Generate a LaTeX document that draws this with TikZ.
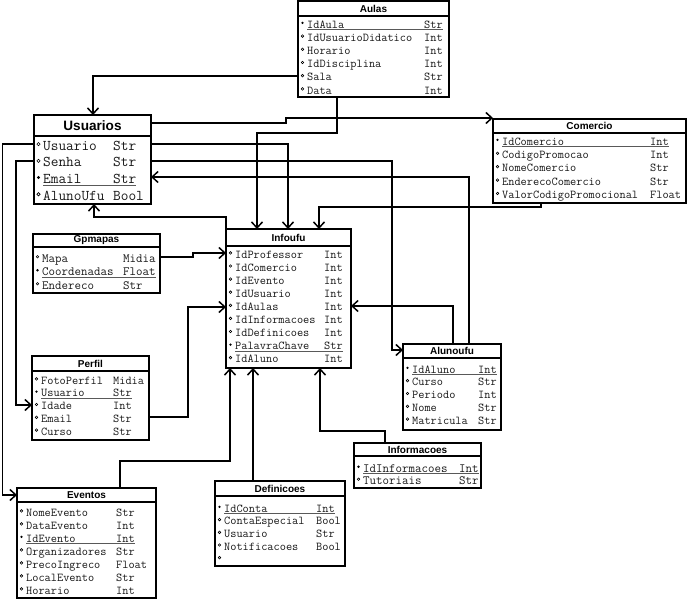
\documentclass[tikz,border=0pt]{standalone}
\usepackage{fontspec}
\newfontfamily\titf{Liberation Sans}
\usetikzlibrary{arrows.meta}
\def\fsz{12}\def\tsz{10}\def\ry{0}\def\rs{13}\def\br{1.3}
\tikzset{
 tbox/.style={draw, line width=1.6pt, inner sep=0pt, outer sep=0pt, fill=white},
 tline/.style={line width=1.6pt},
 ttl/.style={font=\titf\bfseries\fontsize{\tsz}{\tsz}\selectfont, inner sep=0pt},
 fld/.style={font=\ttfamily\fontsize{\fsz}{\fsz}\selectfont, inner sep=0pt, anchor=mid west, text=black!90},
 bulk/.style={fill=black},
 bulo/.style={draw, line width=0.6pt, fill=white},
 ulk/.style={draw, line width=1pt, black!65},
 ulo/.style={draw=none},
 conn/.style={line width=1.5pt, -{Straight Barb[length=6pt,width=11pt]}},
}
\newcommand\dbtab[9]{%
  \pgfmathsetmacro\bw{#4-#2}\pgfmathsetmacro\bh{#5-#3}%
  \node[tbox, minimum width=\bw pt, minimum height=\bh pt] (#1) at ({(#2+#4)/2},{(#3+#5)/2}) {};
  \draw[tline] (#2,#6) -- (#4,#6);
  \node[ttl] (#1-t) at ({(#2+#4)/2},{(#3+#6)/2}) {#7};
  \foreach \kk/\nm/\ty [count=\i from 0] in {#9} {
    \pgfmathsetmacro\yy{\ry+\i*\rs}
    \pgfmathsetmacro\yb{\yy-0.26*\fsz}
    \node[fld] (#1-n\i) at ({#2+9},{\yy}) {\nm};
    \node[fld] (#1-y\i) at ({#8},{\yy}) {\ty};
    \path[bul\kk] ({#2+4.5},{\yb}) circle (\br);
    \path[ul\kk] ([yshift=-1.8pt]#1-n\i.base west) -- ([yshift=-1.8pt]#1-y\i.base east);
  }
}
\begin{document}
\begin{tikzpicture}[x=1pt,y=-1pt]
\useasboundingbox (0,0) rectangle (688,599);

\def\ry{26}\def\rs{13.2}
\dbtab{aulas}{298}{1}{449}{97}{16}{Aulas}{424}{k/IdAula/Str, o/IdUsuarioDidatico/Int, o/Horario/Int, o/IdDisciplina/Int, o/Sala/Str, o/Data/Int}

\begingroup
\def\fsz{14.9}\def\tsz{13.6}\def\br{1.6}\def\ry{148}\def\rs{16.7}
\dbtab{usuarios}{34}{115}{151}{204}{136}{Usuarios}{113}{o/Usuario/Str, o/Senha/Str, k/Email/Str, o/AlunoUfu/Bool}
\endgroup

\def\ry{143}\def\rs{13.4}
\dbtab{comercio}{493}{119}{686}{203}{133}{Comercio}{650}{k/IdComercio/Int, o/CodigoPromocao/Int, o/NomeComercio/Str, o/EnderecoComercio/Str, o/ValorCodigoPromocional/Float}

\begingroup
\def\fsz{12.6}\def\ry{260}\def\rs{13.5}
\dbtab{gpmapas}{33}{234}{160}{293}{247}{Gpmapas}{123}{o/Mapa/Midia, k/Coordenadas/Float, o/Endereco/Str}
\endgroup

\def\ry{256}\def\rs{13.1}
\dbtab{infoufu}{226}{229}{351}{368}{246}{Infoufu}{324}{o/IdProfessor/Int, o/IdComercio/Int, o/IdEvento/Int, o/IdUsuario/Int, o/IdAulas/Int, o/IdInformacoes/Int, o/IdDefinicoes/Int, k/PalavraChave/Str, o/IdAluno/Int}

\def\ry{371}\def\rs{12.8}
\dbtab{alunoufu}{403}{344}{501}{430}{358}{Alunoufu}{478}{k/IdAluno/Int, o/Curso/Str, o/Periodo/Int, o/Nome/Str, o/Matricula/Str}

\def\ry{382}\def\rs{12.8}
\dbtab{perfil}{32}{356}{149}{440}{371}{Perfil}{113}{o/FotoPerfil/Midia, k/Usuario/Str, o/Idade/Int, o/Email/Str, o/Curso/Str}

\begingroup
\def\fsz{12.6}\def\ry{470}\def\rs{12.5}
\dbtab{informacoes}{354}{443}{481}{488}{456}{Informacoes}{459}{k/IdInformacoes/Int, o/Tutoriais/Str}
\endgroup

\def\ry{514}\def\rs{13}
\dbtab{eventos}{17}{488}{156}{598}{502}{Eventos}{116}{o/NomeEvento/Str, o/DataEvento/Int, k/IdEvento/Int, o/Organizadores/Str, o/PrecoIngreco/Float, o/LocalEvento/Str, o/Horario/Int}

\def\ry{510}\def\rs{12.7}
\dbtab{definicoes}{215}{481}{345}{566}{496}{Definicoes}{316}{k/IdConta/Int, o/ContaEspecial/Bool, o/Usuario/Str, o/Notificacoes/Bool, o//}

% connectors
\draw[conn] (aulas.west |- 0,76) -| (usuarios.north -| 93,0);
\draw[conn] (usuarios.east |- 0,123) -| (286,118) -- (comercio.west |- 0,118);
\draw[conn] (aulas.south -| 337,0) |- (257,133) -- (infoufu.north -| 257,0);
\draw[conn] (usuarios.east |- 0,144) -| (infoufu.north -| 288,0);
\draw[conn] (usuarios.east |- 0,161) -| (392,350) -- (alunoufu.west |- 0,350);
\draw[conn] (alunoufu.north -| 469,0) |- (usuarios.east |- 0,177);
\draw[conn] (comercio.south -| 541,0) |- (319,207) -- (infoufu.north -| 319,0);
\draw[conn] (infoufu.north west) -- (infoufu.north west |- 0,217) -| (usuarios.south -| 94,0);
\draw[conn] (gpmapas.east |- 0,257) -| (193,253) -- (infoufu.west |- 0,253);
\draw[conn] (alunoufu.north -| 453,0) |- (infoufu.east |- 0,306);
\draw[conn] (perfil.east |- 0,417) -| (188,307) -- (infoufu.west |- 0,307);
\draw[conn] (usuarios.west |- 0,144) -| (2.5,495) -- (eventos.west |- 0,495);
\draw[conn] (usuarios.west |- 0,161) -| (16,405) -- (perfil.west |- 0,405);
\draw[conn] (eventos.north -| 120,0) |- (230,461) -- (infoufu.south -| 230,0);
\draw[conn] (definicoes.north -| 253,0) -- (infoufu.south -| 253,0);
\draw[conn] (informacoes.north -| 385,0) |- (320,431) -- (infoufu.south -| 320,0);
\end{tikzpicture}
\end{document}
